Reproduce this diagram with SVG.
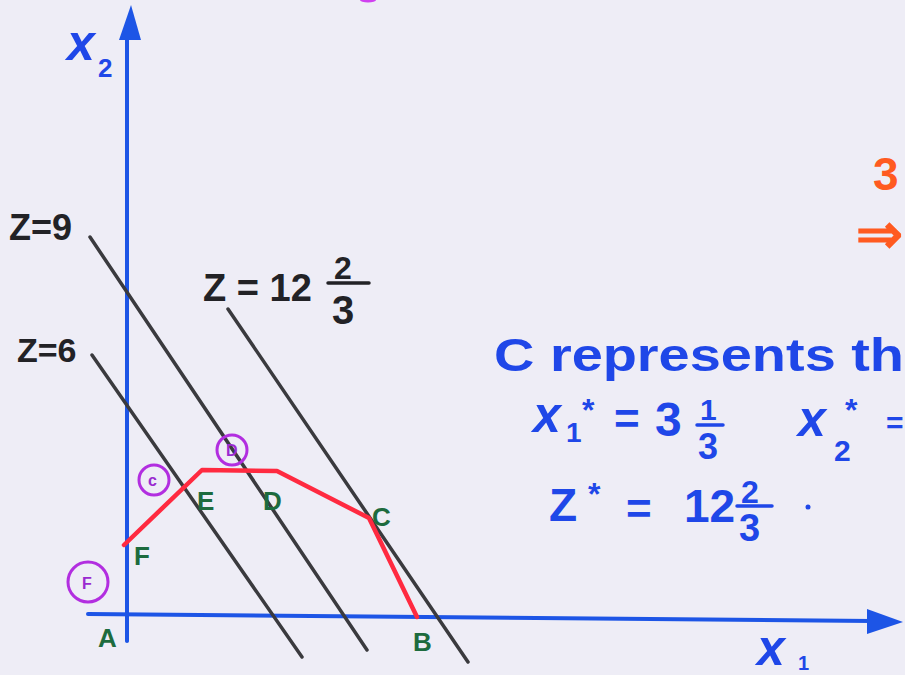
<svg xmlns="http://www.w3.org/2000/svg" width="905" height="675" viewBox="0 0 905 675">
<defs>
<style>
.bg{fill:#eeedf6}
.axis{stroke:#1d55e6;stroke-width:4;fill:none;stroke-linecap:round}
.axhead{fill:#1d55e6}
.zline{stroke:#3a3a3e;stroke-width:3.5;fill:none;stroke-linecap:round}
.region{stroke:#ff2a40;stroke-width:4.5;fill:none;stroke-linejoin:round;stroke-linecap:round}
.blk{font-family:"Liberation Sans",Arial,sans-serif;font-weight:bold;fill:#222226}
.blu{font-family:"Liberation Sans",Arial,sans-serif;font-weight:bold;fill:#1f47e8}
.vlab{font-family:"Liberation Sans",Arial,sans-serif;font-weight:900;font-size:26px;fill:#1d6b3e}
.circ{stroke:#b22ee0;stroke-width:3;fill:none}
.ctxt{font-family:"Liberation Sans",Arial,sans-serif;font-weight:bold;font-size:16px;fill:#9a2ad0}
.org{font-family:"Liberation Sans",Arial,sans-serif;font-weight:bold;fill:#ff5a20}
.bar{stroke-width:3.5;stroke-linecap:round}
</style>
</defs>
<rect class="bg" x="0" y="0" width="905" height="675"/>
<ellipse cx="368" cy="0" rx="8" ry="2.5" fill="#d040f0"/>

<g id="axes">
<line class="axis" x1="127" y1="36" x2="127" y2="641"/>
<polygon class="axhead" points="131,5 119,40 141,40"/>
<line class="axis" x1="88" y1="614" x2="872" y2="621"/>
<polygon class="axhead" points="903,622 867,609 867,634"/>
<text class="blu" x="67" y="60" font-size="50" font-style="italic">x</text>
<text class="blu" x="98" y="77" font-size="26">2</text>
<text class="blu" x="757" y="665" font-size="50" font-style="italic">x</text>
<text class="blu" x="798" y="670" font-size="20">1</text>
</g>

<g id="connectors">
<line id="z6" class="zline" x1="92" y1="355" x2="302" y2="657"/>
<line id="z9" class="zline" x1="90" y1="237" x2="367" y2="650"/>
<line id="z12" class="zline" x1="228" y1="309" x2="468" y2="662"/>
<polyline id="feasible" class="region" points="124,545 202,470 277,471 369,518 417,617"/>
</g>

<g id="zlabels">
<text class="blk" x="9" y="240" font-size="36">Z=9</text>
<text class="blk" x="17" y="362" font-size="34">Z=6</text>
<text class="blk" x="203" y="301" font-size="38">Z = 12</text>
<text class="blk" x="334" y="279" font-size="32">2</text>
<line class="bar" stroke="#222226" x1="328" y1="283" x2="369" y2="283"/>
<text class="blk" x="332" y="324" font-size="40">3</text>
</g>

<g id="node-A"><text class="vlab" x="98" y="647">A</text><circle cx="127" cy="640" r="2" fill="#1d55e6"/></g>
<g id="node-B"><text class="vlab" x="413" y="651">B</text></g>
<g id="node-C"><text class="vlab" x="372" y="526">C</text></g>
<g id="node-D"><text class="vlab" x="263" y="510">D</text></g>
<g id="node-E"><text class="vlab" x="197" y="510">E</text></g>
<g id="node-F"><text class="vlab" x="134" y="565">F</text></g>

<g id="circled-C"><circle class="circ" cx="154" cy="480" r="15"/><text class="ctxt" x="148" y="486">c</text></g>
<g id="circled-D"><circle class="circ" cx="232" cy="450" r="15"/><text class="ctxt" x="226" y="456">D</text></g>
<g id="circled-F"><circle class="circ" cx="88" cy="582" r="20"/><text class="ctxt" x="82" y="589" font-size="20">F</text></g>

<g id="result">
<text class="blu" x="494" y="371" font-size="46" textLength="410" lengthAdjust="spacingAndGlyphs">C represents th</text>
<text class="blu" x="533" y="432" font-size="50" font-style="italic">x</text>
<text class="blu" x="566" y="442" font-size="28">1</text>
<text class="blu" x="582" y="421" font-size="32">*</text>
<text class="blu" x="614" y="434" font-size="44">=</text>
<text class="blu" x="655" y="436" font-size="48">3</text>
<text class="blu" x="700" y="420" font-size="30">1</text>
<line class="bar" stroke="#1f47e8" x1="697" y1="425" x2="723" y2="425"/>
<text class="blu" x="698" y="459" font-size="36">3</text>
<text class="blu" x="798" y="436" font-size="50" font-style="italic">x</text>
<text class="blu" x="834" y="461" font-size="30">2</text>
<text class="blu" x="845" y="421" font-size="32">*</text>
<text class="blu" x="886" y="433" font-size="30">=</text>
<text class="blu" x="549" y="521" font-size="46">Z</text>
<text class="blu" x="588" y="505" font-size="32">*</text>
<text class="blu" x="626" y="524" font-size="44">=</text>
<text class="blu" x="684" y="522" font-size="46">12</text>
<text class="blu" x="741" y="503" font-size="32">2</text>
<line class="bar" stroke="#1f47e8" x1="737" y1="506" x2="772" y2="506"/>
<text class="blu" x="739" y="541" font-size="38">3</text>
<circle cx="808" cy="507" r="2.5" fill="#1f47e8"/>
</g>

<g id="side">
<text class="org" x="873" y="190" font-size="46">3</text>
<text class="org" x="856" y="253" font-size="56">⇒</text>
</g>
</svg>
